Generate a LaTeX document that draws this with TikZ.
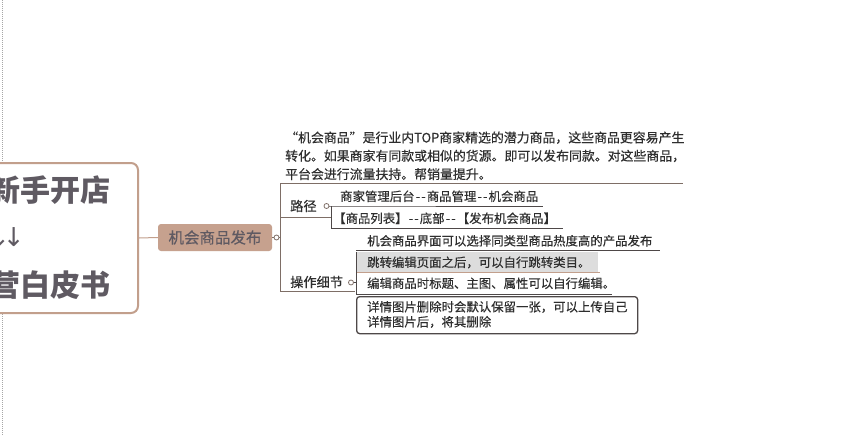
\documentclass[tikz,border=0pt]{standalone}
\usepackage{fontspec}
\setmainfont{Noto Sans CJK SC}
\newfontfamily\tf{Noto Sans CJK SC}[FakeBold=0.3]
\newfontfamily\symf{DejaVu Sans}
\newcommand\dblhy{\kern1.2pt-\kern1.2pt-\kern1.2pt}
\definecolor{brn}{HTML}{C29F8C}
\definecolor{nodef}{HTML}{C6A18E}
\definecolor{tx}{HTML}{2E2E2E}
\definecolor{lnc}{HTML}{7E6E66}
\definecolor{dkl}{HTML}{4E4848}
\definecolor{rootc}{HTML}{5F5A62}
\definecolor{grayf}{HTML}{DDDDDD}
\tikzset{
  rootbox/.style={draw=brn, line width=2pt, rounded corners=7pt, fill=white, inner sep=0},
  roottxt/.style={inner sep=0, text=rootc, font=\fontsize{30}{32}\selectfont\bfseries},
  pubnode/.style={fill=nodef, rounded corners=3pt, inner sep=0, text=rootc, font=\fontsize{15.5}{16}\tf},
  txt/.style={inner sep=0, anchor=base west, text=tx, font=\fontsize{12.4}{14}\tf},
  lbl/.style={inner sep=0, anchor=base west, text=tx, font=\fontsize{13.2}{15}\tf},
  knob/.style={circle, draw=lnc, fill=white, inner sep=0, minimum size=5pt, line width=0.8pt},
  ln/.style={draw=lnc, line width=0.9pt},
  ul/.style={draw=dkl, line width=0.9pt},
  bul/.style={draw=brn, line width=1.2pt}
}
\begin{document}
\begin{tikzpicture}[x=1pt,y=-1pt]
\useasboundingbox (0,0) rectangle (854,436);
\clip (0,0) rectangle (854,436);
\fill[white] (0,0) rectangle (854,436);
\draw[gray!70, densely dotted, line width=1pt] (2,0) -- (2,436);

% root
\node (root) [rootbox, minimum width=160pt, minimum height=150pt] at (58,238) {};
\node (r1) [roottxt, anchor=base east] at (111,201) {新手开店};
\node (r2) [roottxt, anchor=base west, font=\fontsize{26}{28}\selectfont\symf] at (-12,246) {↓\kern-7pt↓};
\node (r3) [roottxt, anchor=base east] at (111,296) {营白皮书};

% main topic
\node (pub) [pubnode, minimum width=114pt, minimum height=27pt] at (215,237.5) {机会商品发布};
\draw[brn, line width=1pt] (root.east) -- (pub.west);
\node (k0) [knob] at (276.5,237.5) {};
\draw[ln] (pub.east) -- (k0);

\coordinate (tt) at (280,183);
\coordinate (tm) at (280,237.5);
\coordinate (tb) at (280,291);
\draw[ln] (k0) -- (tm);
\draw[ln] (tt) -- (tb);

% description
\node (desc) [inner sep=0, anchor=base west, text=tx, align=left,
  font=\fontsize{12.9}{18.3}\tf] at (285,179)
  {“机会商品”是行业内TOP商家精选的潜力商品，这些商品更容易产生\\
   转化。如果商家有同款或相似的货源。即可以发布同款。对这些商品，\\
   平台会进行流量扶持。帮销量提升。};
\coordinate (de) at (683,183);
\draw[ln] (tt) -- (de);

% 路径
\node (lj) [lbl] at (290,211) {路径};
\coordinate (lje) at (331,217);
\draw[ln] (tt |- lje) -- (lje);
\node (k1) [knob] at (326.5,206) {};
\node (p1) [txt] at (340,201) {商家管理后台\dblhy 商品管理\dblhy 机会商品};
\coordinate (p1e) at (543,206);
\draw[ul] (k1) -- (331,206) -- (p1e);
\node (p2) [txt] at (333,223) {【商品列表】\dblhy 底部\dblhy 【发布机会商品】};
\coordinate (p2e) at (563,228);
\draw[ul] (331,206) -- (331,228) -- (p2e);

% 操作细节
\node (cz) [lbl] at (290,287) {操作细节};
\coordinate (cze) at (355,291);
\draw[ln] (tb) -- (cze);
\node (k2) [knob] at (351,282.5) {};
\coordinate (vx) at (356,282.5);
\draw[ul] (k2) -- (vx);

\node (c1) [txt] at (367,245.5) {机会商品界面可以选择同类型商品热度高的产品发布};
\coordinate (c1e) at (660,250);
\draw[ul] (356,250) -- (c1e);

\fill[grayf] (356,252) rectangle (598,272);
\node (c2) [txt] at (367,267) {跳转编辑页面之后，可以自行跳转类目。};
\draw[bul] (356,272.5) -- (600,272.5);

\node (c3) [txt] at (367,288) {编辑商品时标题、主图、属性可以自行编辑。};
\draw[ul] (356,252) -- (356,294) -- (612,294);

\node (c4) [draw=dkl, line width=1.3pt, rounded corners=3pt, minimum width=281pt,
  minimum height=37pt, inner sep=0, anchor=north west] at (356,296) {};
\node (c4a) [txt] at (367,311.5) {详情图片删除时会默认保留一张，可以上传自己};
\node (c4b) [txt] at (367,326.5) {详情图片后，将其删除};
\end{tikzpicture}
\end{document}
